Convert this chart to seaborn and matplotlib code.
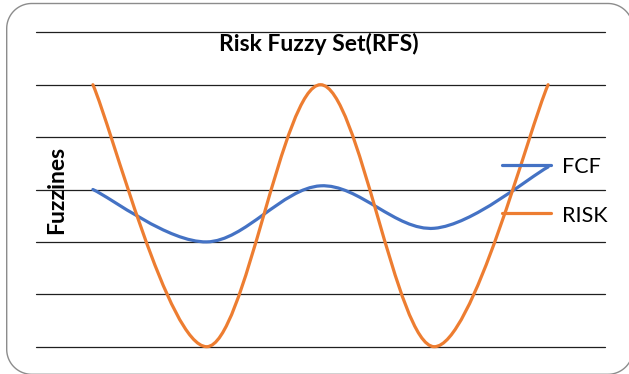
import matplotlib
matplotlib.use("Agg")
import numpy as np
import pandas as pd
import seaborn as sns
import matplotlib.pyplot as plt
from matplotlib.path import Path
from matplotlib.patches import PathPatch
from matplotlib.lines import Line2D
from matplotlib.transforms import IdentityTransform

# ---- data -------------------------------------------------------------
categories = [1, 2, 3, 4, 5]
fcf = [3.0, 2.0, 3.07, 2.26, 3.43]
risk = [5.0, 0.0, 5.0, 0.0, 5.0]
series_names = ["FCF", "RISK"]
series_colors = ["#4472C4", "#ED7D31"]
y_ticks = [0, 1, 2, 3, 4, 5, 6]

title_text = "Risk Fuzzy Set(RFS)"
ylabel_text = "Fuzzines"

df = pd.DataFrame({"x": categories, "FCF": fcf, "RISK": risk})

sns.set_theme(style="white")
plt.rcParams["font.family"] = ["Lato", "DejaVu Sans"]

W, H = 629, 374
fig = plt.figure(figsize=(W / 100, H / 100), dpi=100)
fig.patch.set_facecolor("white")

# plot area in pixel units (from top-left)
left_px, right_px, top_px, bottom_px = 36.0, 605.0, 32.3, 346.7
ax = fig.add_axes([left_px / W, 1 - bottom_px / H,
                   (right_px - left_px) / W, (bottom_px - top_px) / H])
ax.set_facecolor("none")
ax.set_xlim(0.5, 5.5)
ax.set_ylim(0, 6)
ax.set_yticks(y_ticks)
ax.set_xticks([])
ax.tick_params(left=False, bottom=False, labelleft=False, labelbottom=False)
ax.yaxis.grid(True, color="#1f1f1f", linewidth=0.9)
ax.xaxis.grid(False)
for gl in ax.get_ygridlines():
    gl.set_clip_on(False)
sns.despine(ax=ax, left=True, bottom=True, top=True, right=True)
ax.set_axisbelow(True)


def smooth_path(xs, ys, t=1.0 / 6.0):
    """Spreadsheet-style smoothed line: cubic Bezier segments through the points."""
    pts = np.column_stack([xs, ys]).astype(float)
    n = len(pts)
    verts = [pts[0]]
    codes = [Path.MOVETO]
    for i in range(n - 1):
        p_prev = pts[i - 1] if i > 0 else pts[i]
        p0 = pts[i]
        p1 = pts[i + 1]
        p_next = pts[i + 2] if i + 2 < n else pts[i + 1]
        c1 = p0 + (p1 - p_prev) * t
        c2 = p1 - (p_next - p0) * t
        verts += [c1, c2, p1]
        codes += [Path.CURVE4] * 3
    return Path(verts, codes)


for name, color in zip(series_names, series_colors):
    patch = PathPatch(smooth_path(df["x"], df[name]), facecolor="none",
                      edgecolor=color, linewidth=2.3, capstyle="round",
                      joinstyle="round", clip_on=False, zorder=3)
    ax.add_patch(patch)

# title and axis title
fig.text(319 / W, 1 - 50.7 / H, title_text, ha="center", va="baseline",
         fontsize=16.5, fontweight="bold", color="black")
fig.text(57 / W, 1 - 189.5 / H, ylabel_text, ha="center", va="center",
         rotation=90, fontsize=16.5, fontweight="bold", color="black")

# legend on the right
legend_rows = [(165.0, 173.3), (212.7, 221.7)]
for (line_y, base_y), name, color in zip(legend_rows, series_names, series_colors):
    fig.add_artist(Line2D([502 / W, 551 / W], [1 - line_y / H] * 2,
                          transform=fig.transFigure, color=color,
                          linewidth=2.3, solid_capstyle="round", zorder=5))
    fig.text(562 / W, 1 - base_y / H, name, ha="left", va="baseline",
             fontsize=15.5, color="black", zorder=5)


# rounded chart frame as an open outline (right side lies past the image edge)
def corner(cx, cy, r, a0, a1, n=24):
    a = np.radians(np.linspace(a0, a1, n))
    return cx + r * np.cos(a), cy + r * np.sin(a)


fx0, fy0, fx1, fy1, rad = 6.7, 3.5, 633.0, 374.3, 25.0  # top-left origin
pieces = [
    corner(fx1 - rad, fy1 - rad, rad, 0, 90),      # bottom-right
    corner(fx0 + rad, fy1 - rad, rad, 90, 180),    # bottom-left
    corner(fx0 + rad, fy0 + rad, rad, 180, 270),   # top-left
    corner(fx1 - rad, fy0 + rad, rad, 270, 360),   # top-right
]
fxs = np.concatenate([p[0] for p in pieces])
fys = np.concatenate([p[1] for p in pieces])
fig.add_artist(Line2D(fxs, H - fys, transform=IdentityTransform(),
                      color="#8c8c8c", linewidth=1.0))

fig.savefig("out.png", dpi=100)
